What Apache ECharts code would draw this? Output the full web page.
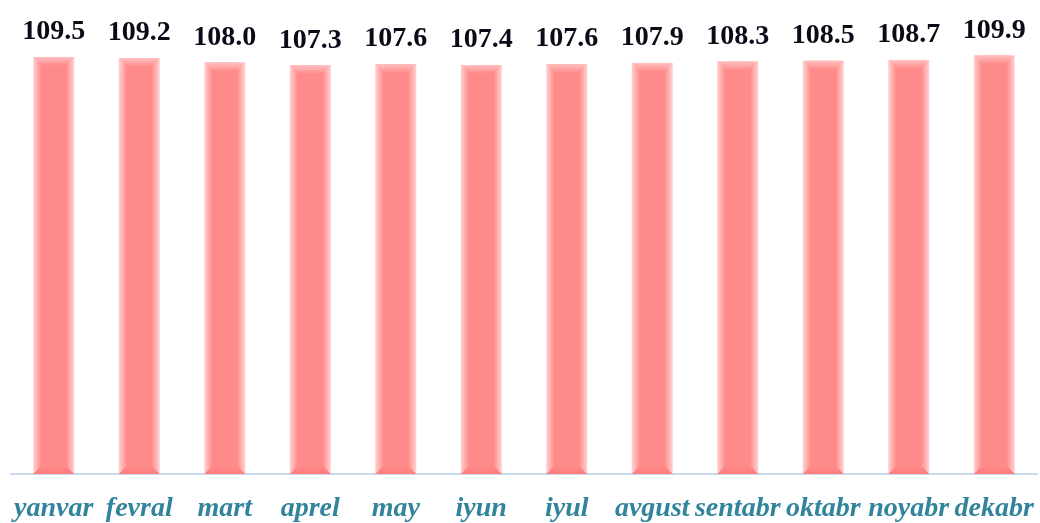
<!DOCTYPE html>
<html>
<head>
<meta charset="utf-8">
<script src="https://cdn.jsdelivr.net/npm/echarts@6/dist/echarts.min.js"></script>
<style>
  html, body { margin: 0; padding: 0; background: #fff; }
  #chart { width: 1040px; height: 523px; }
</style>
</head>
<body>
<div id="chart"></div>
<script>
const months = ['yanvar', 'fevral', 'mart', 'aprel', 'may', 'iyun', 'iyul', 'avgust', 'sentabr', 'oktabr', 'noyabr', 'dekabr'];
const values = [109.5, 109.2, 108.0, 107.3, 107.6, 107.4, 107.6, 107.9, 108.3, 108.5, 108.7, 109.9];

const chart = echarts.init(document.getElementById('chart'));

const BAR_W = 41;
const BEVEL = 8;

// top and bottom bevel faces drawn over the plain bars
function renderBevel(params, api) {
  const top = api.coord([api.value(0), api.value(1)]);
  const base = api.coord([api.value(0), 0]);
  const x = top[0] - BAR_W / 2;
  const y = top[1];
  const w = BAR_W;
  const h = base[1] - top[1];
  const b = BEVEL;
  return {
    type: 'group',
    children: [
      {
        type: 'polygon',
        shape: { points: [[x, y], [x + w, y], [x + w - b, y + b], [x + b, y + b]] },
        style: {
          fill: new echarts.graphic.LinearGradient(0, 0, 0, 1, [
            { offset: 0, color: '#ffc0c0' },
            { offset: 1, color: '#ff9090' }
          ])
        }
      },
      {
        type: 'polygon',
        shape: { points: [[x, y + h], [x + w, y + h], [x + w - b, y + h - b], [x + b, y + h - b]] },
        style: {
          fill: new echarts.graphic.LinearGradient(0, 0, 0, 1, [
            { offset: 0, color: '#ff8a8a' },
            { offset: 1, color: '#ff7c7c' }
          ])
        }
      }
    ]
  };
}

const option = {
  animation: false,
  grid: { left: 11, right: 3, top: 55, bottom: 46, containLabel: false },
  xAxis: {
    type: 'category',
    data: months,
    axisLine: { lineStyle: { color: '#c9daf0', width: 2 } },
    axisTick: { show: false },
    axisLabel: {
      interval: 0,
      margin: 21,
      color: '#31849b',
      fontFamily: 'Liberation Serif',
      fontStyle: 'italic',
      fontWeight: 'bold',
      fontSize: 28
    }
  },
  yAxis: {
    type: 'value',
    min: 0,
    max: 110,
    show: false,
    splitLine: { show: false }
  },
  series: [
    {
      type: 'bar',
      data: values,
      barWidth: BAR_W,
      z: 2,
      itemStyle: {
        color: {
          type: 'linear', x: 0, y: 0, x2: 1, y2: 0,
          colorStops: [
            { offset: 0, color: '#ffd2d2' },
            { offset: 0.2, color: '#ff8a8a' },
            { offset: 0.8, color: '#ff8a8a' },
            { offset: 1, color: '#ffd2d2' }
          ]
        }
      },
      label: {
        show: true,
        position: 'top',
        distance: 11,
        formatter: p => p.value.toFixed(1),
        color: '#0b0b18',
        fontFamily: 'Liberation Serif',
        fontWeight: 'bold',
        fontSize: 28
      }
    },
    {
      type: 'custom',
      data: values.map((v, i) => [i, v]),
      z: 3,
      silent: true,
      renderItem: renderBevel
    }
  ]
};

chart.setOption(option);
window.addEventListener('resize', () => chart.resize());
</script>
</body>
</html>
